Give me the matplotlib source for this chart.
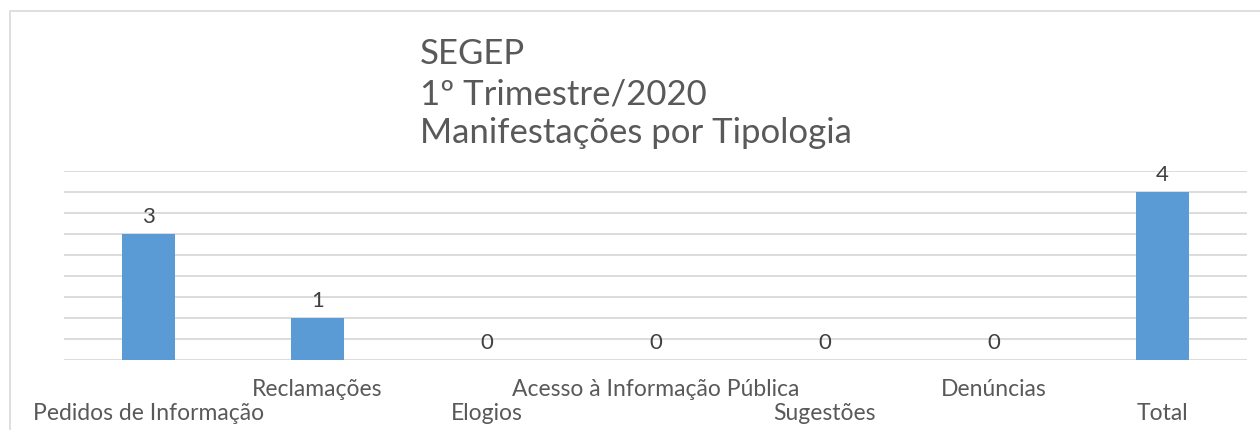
import matplotlib
matplotlib.use("Agg")
import matplotlib.pyplot as plt
from matplotlib.patches import Rectangle

categories = ["Pedidos de Informação", "Reclamações", "Elogios",
              "Acesso à Informação Pública", "Sugestões", "Denúncias", "Total"]
values = [3, 1, 0, 0, 0, 0, 4]
title_lines = ["SEGEP", "1º Trimestre/2020", "Manifestações por Tipologia"]

plt.rcParams['font.family'] = ['Lato', 'DejaVu Sans']
W, H = 1260, 430
fig = plt.figure(figsize=(W / 100, H / 100), dpi=100)
fig.patch.set_facecolor("white")

# chart border
fig.patches.append(Rectangle((10 / W, -0.1), 1.2, 1 - 11 / H + 0.1, transform=fig.transFigure,
                             fill=False, edgecolor="#D9D9D9", linewidth=1.2))

ax = fig.add_axes([64 / W, 70 / H, (1247 - 64) / W, 189 / H])
x = list(range(len(categories)))
ax.bar(x, values, width=0.314, color="#5B9BD5", zorder=3)
ax.set_xlim(-0.5, len(categories) - 0.5)
ax.set_ylim(0, 4.5)
ax.set_yticks([i * 0.5 for i in range(10)])
ax.yaxis.grid(True, color="#D9D9D9", linewidth=1.3, zorder=0)
ax.set_axisbelow(True)
ax.tick_params(left=False, labelleft=False, bottom=False, labelbottom=False)
for s in ax.spines.values():
    s.set_visible(False)

for xi, v in zip(x, values):
    ax.annotate(str(v), (xi, v), xytext=(0, 5), textcoords="offset points",
                ha="center", va="bottom", fontsize=16, color="#404040")

for xi, c in zip(x, categories):
    ypx = 413 if xi % 2 == 0 else 389
    ax.text(xi, -(ypx - 360) / 189, c, transform=ax.get_xaxis_transform(),
            ha="center", va="center", fontsize=16.5, color="#595959")

for i, t in enumerate(title_lines):
    fig.text(420 / W, 1 - [54, 95, 133][i] / H, t, ha="left", va="center",
             fontsize=25, color="#595959")

fig.savefig("out.png", dpi=100, facecolor="white")
